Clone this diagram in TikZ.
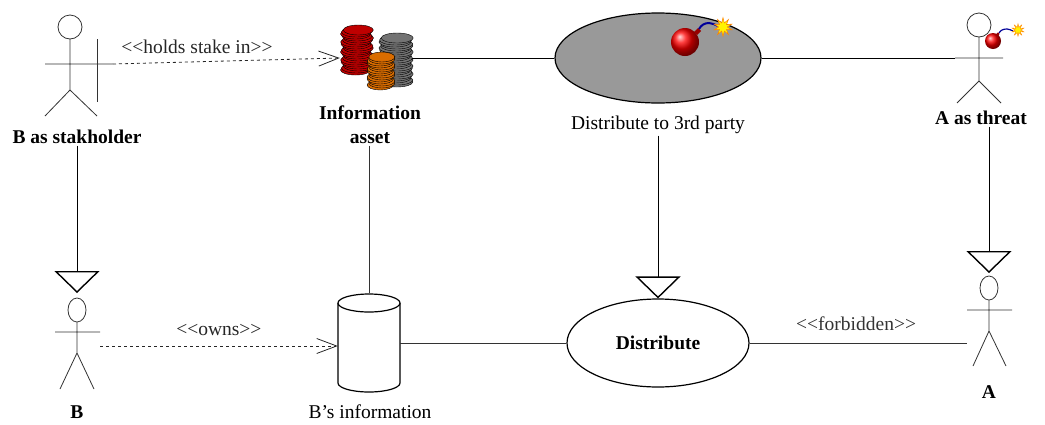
\documentclass[tikz,border=0pt]{standalone}
\usepackage{fontspec}
\setmainfont{Liberation Serif}
\usetikzlibrary{arrows.meta,shapes.geometric,positioning}

\begin{document}
\begin{tikzpicture}[x=1pt,y=-1pt,
  lbl/.style={inner sep=1.5pt, font=\fontsize{19.5}{24}\selectfont, align=center},
  blbl/.style={lbl, font=\fontsize{19.5}{24}\selectfont\bfseries},
  uc/.style={draw, ellipse, line width=1.2pt, inner sep=0pt},
  fig/.style={line width=0.8pt, black!80},
  dep/.style={dashed, black!85, line width=0.8pt, -{Straight Barb[length=20pt,width=15pt,line width=0.8pt]}},
  gen/.style={line width=0.8pt, -{Triangle[open,length=22pt,width=45pt,line width=1.4pt]}},
  coin/.style={draw=black, line width=0.4pt}]
\useasboundingbox (0,0) rectangle (1045,424);

% B as stakeholder
\draw[fig] (70,27) circle (12pt);
\draw[fig] (70,39) -- (70,90) (45,64) -- (113,64) (45,116) -- (70,90) -- (97,116);
\draw[fig] (97,39) -- (97,102);
\coordinate (bhand) at (113,64);
\node[blbl] (stk) at (77,137) {B as stakholder};

% coin stacks
\node[minimum width=72pt, minimum height=66pt] (coins) at (376,58) {};
\foreach \y in {70,68,...,30}{\draw[coin, fill=red!75!black] ({357+1.5*sin(40*\y)},\y) ellipse [x radius=15, y radius=5];}
\foreach \y in {82,80,...,38}{\draw[coin, fill=black!55] ({396+1.2*sin(50*\y)},\y) ellipse [x radius=16, y radius=5];}
\foreach \y in {85,83,...,57}{\draw[coin, fill=orange!85!black] ({381+1.2*sin(45*\y)},\y) ellipse [x radius=13, y radius=5];}
\node[blbl] (asset) at (370,125) {Information\\asset};

\draw[dep] (bhand) -- node[lbl, above, pos=0.37, yshift=6pt] {<{}<holds stake in>{}>} (coins.west);

% misuse case
\node[uc, fill=black!40, minimum width=206pt, minimum height=90pt] (dtp) at (658,58) {};
\shade[ball color=red] (685,42) circle (14pt);
\fill[red!60!black] (694,32) -- (698,28) -- (701,31) -- (697,35) -- cycle;
\draw[blue!60!black, line width=2pt] (699,29) to[out=60, in=180] (709,23) to[out=0, in=160] (718,26);
\node[star, star points=10, star point ratio=2.2, fill=yellow, draw=orange, line width=0.5pt, inner sep=3pt] (spark) at (723,27) {};
\node[lbl] (dtplbl) at (658,125) {Distribute to 3rd party};
\draw (coins.east) -- (dtp.west);

% A as threat
\draw[fig] (979,25) circle (12pt);
\draw[fig] (979,37) -- (979,81) (955,58) -- (1003,58) (957,103) -- (979,81) -- (1001,103);
\coordinate (ahand) at (955,58);
\shade[ball color=red] (993,41) circle (8pt);
\fill[red!60!black] (998,34) circle (1.6pt);
\draw[blue!60!black, line width=1.2pt] (999,33) to[out=60, in=180] (1007,29) to[out=0, in=160] (1013,31);
\node[star, star points=10, star point ratio=2.2, fill=yellow, draw=orange, line width=0.4pt, inner sep=2pt] (spark2) at (1018,30) {};
\node[blbl] (thr) at (981,118) {A as threat};
\draw (dtp.east) -- (ahand);

% B
\draw[fig] (77,310) ellipse [x radius=9, y radius=12];
\draw[fig] (77,322) -- (77,353) (55,332) -- (100,332) (60,389) -- (77,353) -- (94,389);
\coordinate (bhead) at (77,293);
\coordinate (bhand2) at (100,346);
\node[blbl] (B) at (77,412) {B};
\draw[gen] (stk) -- (bhead);

% B's information
\node[minimum width=62pt, minimum height=100pt, inner sep=0pt] (db) at (369,343) {};
\draw[line width=1.2pt, fill=white] (338,303) -- (338,383) arc[start angle=180, end angle=0, x radius=31, y radius=9] -- (400,303);
\draw[line width=1.2pt, fill=white] (369,303) ellipse [x radius=31, y radius=9];
\node[lbl] (dblbl) at (370,412) {B's information};
\draw[fig] (asset.south -| db.north) -- (db.north);
\draw[dep] (bhand2) -- node[lbl, above, pos=0.5, yshift=8pt] {<{}<owns>{}>} (db.west |- bhand2);

% Distribute
\node[uc, fill=white, minimum width=182pt, minimum height=88pt, font=\fontsize{19.5}{24}\selectfont\bfseries] (dist) at (658,343) {Distribute};
\draw[fig] (db.east) -- (dist.west);
\draw[gen] (dtplbl) -- (dist.north);

% A
\draw[fig] (989,288) ellipse [x radius=9, y radius=12];
\draw[fig] (989,300) -- (989,331) (967,310) -- (1012,310) (973,366) -- (989,331) -- (1006,366);
\coordinate (ahead) at (989,273);
\coordinate (ahand2) at (967,343);
\node[blbl] (A) at (989,392) {A};
\draw[gen] (thr.south -| ahead) -- (ahead);
\draw[fig] (dist.east) -- node[lbl, above, pos=0.49, yshift=10pt] {<{}<forbidden>{}>} (ahand2);
\end{tikzpicture}
\end{document}
